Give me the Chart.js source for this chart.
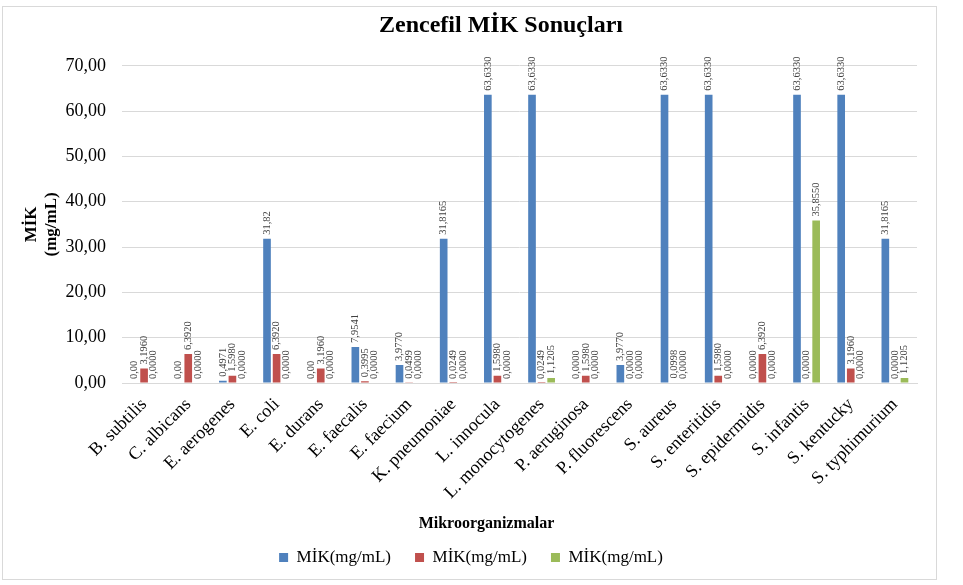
<!DOCTYPE html>
<html>
<head>
<meta charset="utf-8">
<script src="https://cdn.jsdelivr.net/npm/chart.js@4.4.0/dist/chart.umd.min.js"></script>
<style>
  html, body { margin: 0; padding: 0; background: #fff; }
  #box {
    position: absolute; left: 2px; top: 6px;
    width: 935px; height: 574px;
    border: 1px solid #d9d9d9; box-sizing: border-box;
  }
</style>
</head>
<body>
<div id="box"><canvas id="chart-mik"></canvas></div>
<script>
  // categories and values
  var organisms = [
    "B. subtilis", "C. albicans", "E. aerogenes", "E. coli", "E. durans",
    "E. faecalis", "E. faecium", "K. pneumoniae", "L. innocula",
    "L. monocytogenes", "P. aeruginosa", "P. fluorescens", "S. aureus",
    "S. enteritidis", "S. epidermidis", "S. infantis", "S. kentucky",
    "S. typhimurium"
  ];
  var blueValues = [0, 0, 0.4971, 31.82, 0, 7.9541, 3.9770, 31.8165, 63.6330,
    63.6330, 0, 3.9770, 63.6330, 63.6330, 0, 63.6330, 63.6330, 31.8165];
  var blueDecimals = [2, 2, 4, 2, 2, 4, 4, 4, 4, 4, 4, 4, 4, 4, 4, 4, 4, 4];
  var redValues = [3.1960, 6.3920, 1.5980, 6.3920, 3.1960, 0.3995, 0.0499, 0.0249,
    1.5980, 0.0249, 1.5980, 0, 0.0998, 1.5980, 6.3920, 0, 3.1960, 0];
  var greenValues = [0, 0, 0, 0, 0, 0, 0, 0, 0, 1.1205, 0, 0, 0, 0, 0, 35.8550, 0, 1.1205];
  var seriesName = "MİK(mg/mL)";
  var xTitle = "Mikroorganizmalar";
  var yTicks = [0, 10, 20, 30, 40, 50, 60, 70];

  var serif = "'Liberation Serif', 'Times New Roman', serif";

  function fmt(v, d) {
    return v.toFixed(d).replace(".", ",");
  }

  // vertical value labels above each bar, plus the off-centre x title
  var barLabels = {
    id: "barLabels",
    afterLayout: function (chart) {
      // excel puts title and legend a bit right of the canvas centre
      if (chart.titleBlock) {
        chart.titleBlock.left += 41;
        chart.titleBlock.right += 41;
      }
      if (chart.legend) {
        chart.legend.left += 11;
        chart.legend.right += 11;
      }
    },
    afterDatasetsDraw: function (chart) {
      var ctx = chart.ctx;
      ctx.save();
      ctx.font = "10.5px " + serif;
      ctx.fillStyle = "#404040";
      ctx.textAlign = "left";
      ctx.textBaseline = "middle";
      chart.data.datasets.forEach(function (ds, di) {
        var meta = chart.getDatasetMeta(di);
        meta.data.forEach(function (bar, i) {
          var d = ds.decimals ? ds.decimals[i] : 4;
          ctx.save();
          ctx.translate(bar.x, bar.y - 4);
          ctx.rotate(-Math.PI / 2);
          ctx.fillText(fmt(ds.data[i], d), 0, 0);
          ctx.restore();
        });
      });

      var area = chart.chartArea;
      ctx.font = "bold 16px " + serif;
      ctx.fillStyle = "#000";
      ctx.textAlign = "center";
      ctx.fillText(xTitle, (area.left + area.right) / 2 - 33, area.bottom + 141);
      ctx.restore();
    }
  };

  function boot() {
    var canvas = document.getElementById("chart-mik");
    new Chart(canvas.getContext("2d"), {
      type: "bar",
      data: {
        labels: organisms,
        datasets: [
          { label: seriesName, data: blueValues, decimals: blueDecimals, backgroundColor: "#4f81bd" },
          { label: seriesName, data: redValues, backgroundColor: "#c0504d" },
          { label: seriesName, data: greenValues, backgroundColor: "#9bbb59" }
        ]
      },
      options: {
        responsive: true,
        maintainAspectRatio: false,
        animation: false,
        categoryPercentage: 0.65,
        barPercentage: 0.8,
        layout: { padding: { left: 0, right: 19, top: 0, bottom: 3 } },
        plugins: {
          title: {
            display: true,
            text: "Zencefil MİK Sonuçları",
            color: "#000",
            font: { family: serif, size: 24, weight: "bold" },
            padding: { top: 4, bottom: 26 }
          },
          legend: {
            position: "bottom",
            labels: {
              color: "#000",
              font: { family: serif, size: 17 },
              boxWidth: 9,
              boxHeight: 9,
              padding: 24
            }
          },
          tooltip: { enabled: false }
        },
        scales: {
          x: {
            grid: { display: false },
            border: { color: "#d9d9d9" },
            ticks: {
              color: "#000",
              autoSkip: false,
              minRotation: 45,
              maxRotation: 45,
              font: { family: serif, size: 18 }
            },
            afterFit: function (scale) { scale.height = 142; }
          },
          y: {
            min: 0,
            max: 70,
            afterBuildTicks: function (scale) {
              scale.ticks = yTicks.map(function (v) { return { value: v }; });
            },
            grid: { color: "#d9d9d9", drawTicks: false },
            border: { display: false },
            ticks: {
              color: "#000",
              padding: 16,
              font: { family: serif, size: 18 },
              callback: function (v) { return fmt(v, 2); }
            },
            title: {
              display: true,
              text: ["MİK", "(mg/mL)"],
              color: "#000",
              font: { family: serif, size: 17, weight: "bold" },
              padding: { top: 18, bottom: 0 }
            },
            afterFit: function (scale) { scale.width = 119; }
          }
        }
      },
      plugins: [barLabels]
    });
  }

  if (document.readyState === "loading") {
    document.addEventListener("DOMContentLoaded", boot);
  } else {
    boot();
  }
</script>
</body>
</html>
